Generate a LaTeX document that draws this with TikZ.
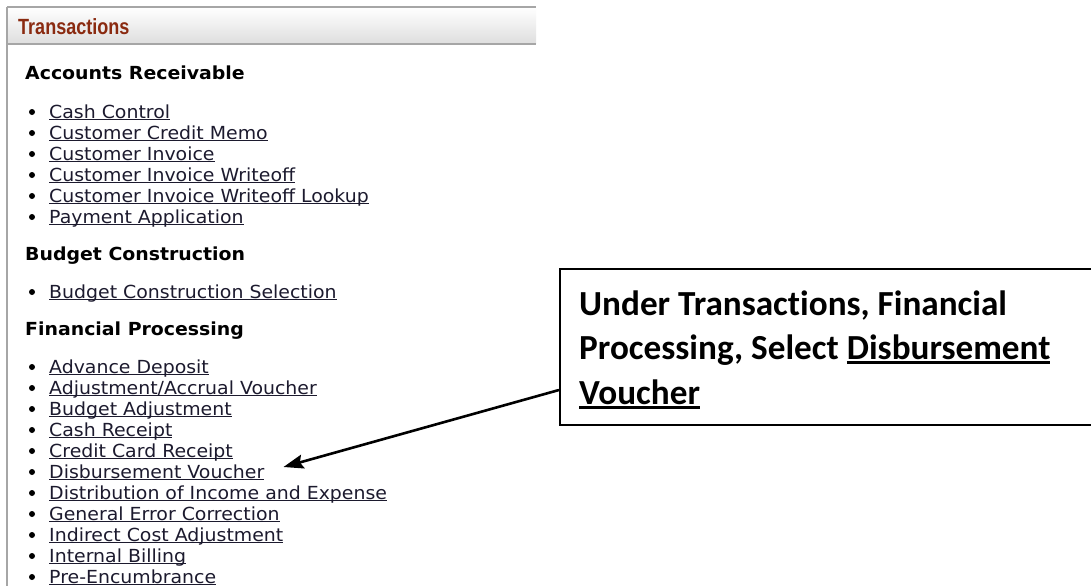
\documentclass[tikz,border=0pt]{standalone}
\usepackage{fontspec}
\setmainfont[FakeStretch=1.05]{DejaVu Sans}
\newfontfamily\hdrfont[FakeStretch=0.82]{Liberation Sans}
\newfontfamily\calfont[Ligatures=NoCommon]{Carlito}
\usetikzlibrary{arrows.meta,calc}
\definecolor{hdrred}{HTML}{8A2A10}
\definecolor{linkcol}{HTML}{1C1A2E}
\definecolor{bordergray}{HTML}{A6A6A6}
\newcommand\mylink[1]{\setbox0\hbox{#1}\rlap{\color{linkcol}\rule[-2.4pt]{\wd0}{1.3pt}}\box0}
\newcommand\calul[1]{\setbox0\hbox{#1}\rlap{\rule[-4.5pt]{\wd0}{2.6pt}}\box0}
\tikzset{
  itemtext/.style={anchor=base west, inner sep=0, font=\fontsize{18}{21}\selectfont, text=linkcol},
  headtext/.style={anchor=base west, inner sep=0, font=\fontsize{18}{21}\selectfont\bfseries, text=black},
  bul/.style={circle, fill=black, inner sep=0, minimum size=6pt},
  caltext/.style={anchor=base west, inner sep=0, font=\calfont\bfseries\fontsize{35.2}{40}\selectfont, text=black},
}
\begin{document}
\begin{tikzpicture}[x=1pt,y=-1pt]
\useasboundingbox (0,0) rectangle (1091,586);
\clip (0,0) rectangle (1091,586);
\fill[white] (0,0) rectangle (1091,586);
% header bar
\shade[top color=white, bottom color=black!13] (7,7) rectangle (536,44);
\draw[bordergray, line width=1.2pt] (7,7) -- (536,7);
\draw[bordergray, line width=1.2pt] (7,44) -- (536,44);
\draw[bordergray, line width=1.4pt] (7,7) -- (7,586);
\node[anchor=base west, inner sep=0, text=hdrred, font=\hdrfont\bfseries\fontsize{22}{22}\selectfont] (hdr) at (18,35) {Transactions};
% sections
\node[headtext] (h1) at (25,79) {Accounts Receivable};
\foreach \t [count=\i] in {Cash Control, Customer Credit Memo, Customer Invoice, Customer Invoice Writeoff, Customer Invoice Writeoff Lookup, Payment Application}{
  \pgfmathsetmacro{\yy}{118+21*(\i-1)}
  \node[bul] (ab\i) at (32,\yy-6) {};
  \node[itemtext] (a\i) at (49,\yy) {\mylink{\t}};
}
\node[headtext] (h2) at (25,260) {Budget Construction};
\node[bul] (bb1) at (32,292) {};
\node[itemtext] (b1) at (49,298) {\mylink{Budget Construction Selection}};
\node[headtext] (h3) at (25,335) {Financial Processing};
\foreach \t [count=\i] in {Advance Deposit, Adjustment/Accrual Voucher, Budget Adjustment, Cash Receipt, Credit Card Receipt, Disbursement Voucher, Distribution of Income and Expense, General Error Correction, Indirect Cost Adjustment, Internal Billing, Pre-Encumbrance}{
  \pgfmathsetmacro{\yy}{373+21*(\i-1)}
  \node[bul] (fb\i) at (32,\yy-6) {};
  \node[itemtext] (f\i) at (49,\yy) {\mylink{\t}};
}
% callout
\node[draw, line width=2pt, anchor=north west, minimum width=560pt, minimum height=156pt, inner sep=0] (callout) at (559,268) {};
\node[caltext] (c1) at (579,315) {Under Transactions, Financial};
\node[caltext] (c2) at (579,359) {Processing, Select \calul{Disbursement}};
\node[caltext] (c3) at (579,404) {\calul{Voucher}};
\coordinate (start) at ($(callout.south west)+(0,-36)$);
\coordinate (tip) at ($(f6.base east)+(19,-11)$);
\draw[line width=2.6pt, -{Stealth[length=20pt, width=14pt, inset=3pt]}] (start) -- (tip);
\end{tikzpicture}
\end{document}
